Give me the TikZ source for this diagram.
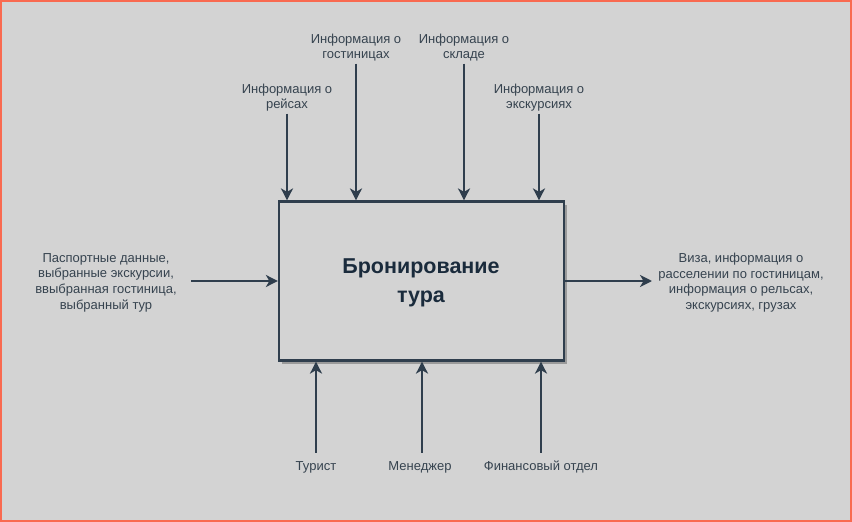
\documentclass[tikz,border=0pt]{standalone}
\usepackage{fontspec}
\setmainfont{Liberation Sans}
\usetikzlibrary{arrows.meta}
\definecolor{bg}{HTML}{D3D3D3}
\definecolor{frame}{HTML}{F96A50}
\definecolor{ln}{HTML}{2F3E4D}
\definecolor{txt}{HTML}{36434F}
\definecolor{ttl}{HTML}{1A2B3C}
\definecolor{shd}{HTML}{9A9A9A}
\tikzset{
  lbl/.style={font=\fontsize{13}{15.7}\selectfont, text=txt, align=center, inner sep=0pt},
  conn/.style={draw=ln, line width=2.2pt, -{Stealth[length=12pt,width=12pt,inset=3.5pt]}},
  mainbox/.style={draw=ln, line width=2.2pt, fill=bg, minimum width=285pt, minimum height=159pt, inner sep=0pt}
}
\begin{document}
\begin{tikzpicture}[x=1pt,y=-1pt]
\useasboundingbox (0,0) rectangle (852,522);
\fill[bg] (0,0) rectangle (852,522);
\draw[frame, line width=2pt] (1,1) rectangle (851,521);
% shadow
\fill[shd] (282,205) rectangle (567,364);
\node[mainbox] (box) at (421.5,281) {};
\node[font=\bfseries\fontsize{21.5}{29}\selectfont, text=ttl, align=center, inner sep=0pt] (title) at (421,283) {Бронирование\\тура};
% top labels
\node[lbl] (t1) at (287,97.5) {Информация о\\рейсах};
\node[lbl] (t2) at (356,47.5) {Информация о\\гостиницах};
\node[lbl] (t3) at (464,47.5) {Информация о\\складе};
\node[lbl] (t4) at (539,97.5) {Информация о\\экскурсиях};
\draw[conn] ([yshift=-2pt]t1.south) -- (t1.south |- box.north);
\draw[conn] ([yshift=-2pt]t2.south) -- (t2.south |- box.north);
\draw[conn] ([yshift=-2pt]t3.south) -- (t3.south |- box.north);
\draw[conn] ([yshift=-2pt]t4.south) -- (t4.south |- box.north);
% left and right
\node[lbl] (in) at (106,282.5) {Паспортные данные,\\выбранные экскурсии,\\ввыбранная гостиница,\\выбранный тур};
\node[lbl] (out) at (741,282.5) {Виза, информация о\\расселении по гостиницам,\\информация о рельсах,\\экскурсиях, грузах};
\coordinate (inA) at (191,281);
\coordinate (outB) at (652,281);
\draw[conn] (inA) -- (box.west |- inA);
\draw[conn] (box.east |- outB) -- (outB);
% bottom
\node[lbl] (b1) at (316,467) {Турист};
\node[lbl] (b2) at (420,467) {Менеджер};
\node[lbl] (b3) at (541,467) {Финансовый отдел};
\draw[conn] ([yshift=8pt]b1.north) -- (b1.north |- box.south);
\draw[conn] ([xshift=2pt,yshift=8pt]b2.north) -- ([xshift=2pt]b2.north |- box.south);
\draw[conn] ([yshift=8pt]b3.north) -- (b3.north |- box.south);
\end{tikzpicture}
\end{document}
